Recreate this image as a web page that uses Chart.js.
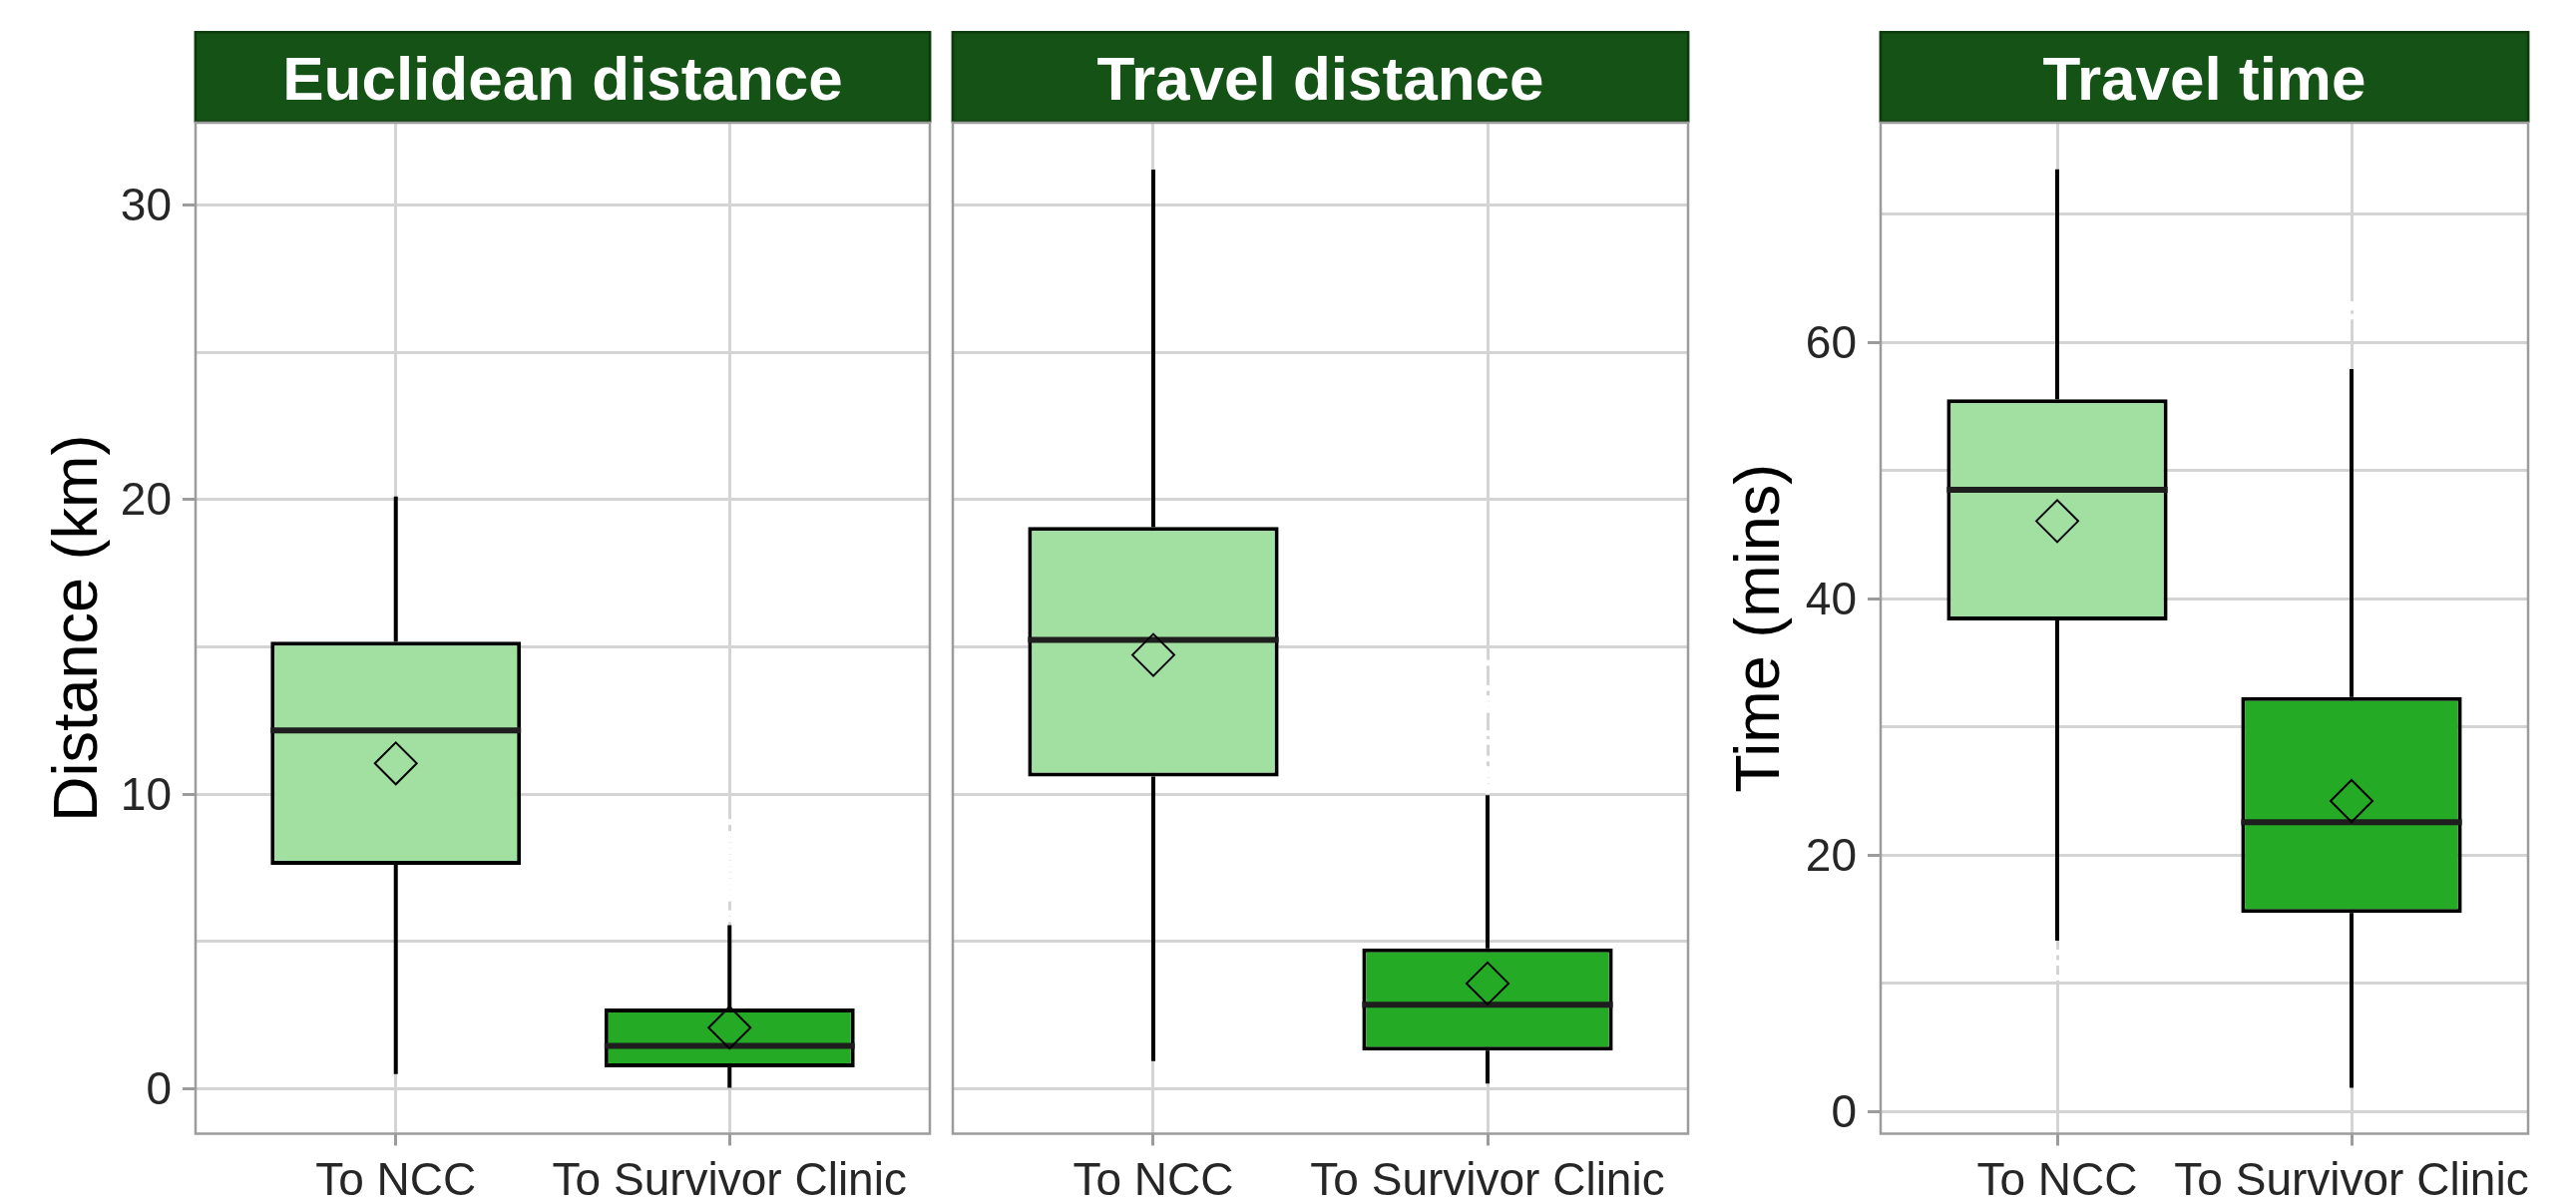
<!DOCTYPE html>
<html>
<head>
<meta charset="utf-8">
<title>Distance and travel time to NCC and survivor clinics</title>
<script src="https://cdn.jsdelivr.net/npm/chart.js@4.4.1/dist/chart.umd.min.js"></script>
<style>
  html, body { margin: 0; padding: 0; background: #ffffff; }
  body { width: 2582px; height: 1206px; position: relative; overflow: hidden; }
  canvas { position: absolute; top: 0; }
</style>
</head>
<body>
<canvas id="euclid" width="946" height="1206" style="left:0px"></canvas>
<canvas id="travel" width="754" height="1206" style="left:946px"></canvas>
<canvas id="time" width="882" height="1206" style="left:1700px"></canvas>
<script>
// ---- data -------------------------------------------------------------
const categories = ['To NCC', 'To Survivor Clinic'];

// Euclidean distance (km): [To NCC, To Survivor Clinic]
const euclidLow = [0.49, 0.03];
const euclidQ1 = [7.6, 0.72];
const euclidMedian = [12.16, 1.45];
const euclidQ3 = [15.17, 2.72];
const euclidHigh = [20.1, 5.55];
const euclidMean = [11.04, 2.07];
const euclidOutliers = [[], [5.75, 5.95, 6.45, 6.65, 6.85, 7.05, 7.25, 7.45, 7.65, 7.85, 8.05, 8.25, 8.45, 8.65, 9.05]];

// Travel distance (km)
const travelLow = [0.93, 0.17];
const travelQ1 = [10.59, 1.29];
const travelMedian = [15.23, 2.85];
const travelQ3 = [19.07, 4.76];
const travelHigh = [31.2, 9.96];
const travelMean = [14.72, 3.57];
const travelOutliers = [[], [10.1, 10.25, 10.45, 10.65, 10.85, 11.2, 11.77, 12.07, 12.85, 13.05, 13.25, 13.6, 14.45]];

// Travel time (mins)
const timeLow = [13.33, 1.85];
const timeQ1 = [38.3, 15.49];
const timeMedian = [48.5, 22.56];
const timeQ3 = [55.56, 32.34];
const timeHigh = [73.5, 57.92];
const timeMean = [46.06, 24.22];
const timeOutliers = [[10.45, 11.6, 12.4], [62.0, 62.7, 63.0]];

// Axis ticks
const distanceTicks = [0, 10, 20, 30];
const distanceMinorTicks = [5, 15, 25];
const timeTicks = [0, 20, 40, 60];
const timeMinorTicks = [10, 30, 50, 70];

// ---- styling ----------------------------------------------------------
const FONT = "'Liberation Sans', Arial, Helvetica, sans-serif";
Chart.defaults.font.family = FONT;
const BOX_FILLS = ['#a1e0a1', '#24aa24'];
const GRID = '#d4d4d4';
const FRAME = '#9c9c9c';
const TEXT = '#262626';
const BOX_WIDTH = 0.75;
const X_AXIS_HEIGHT = 69.5;

// dark green facet strip behind the title block
const stripPlugin = {
  id: 'facetStrip',
  beforeDraw(chart) {
    const { ctx, chartArea, titleBlock } = chart;
    if (!titleBlock) return;
    const x = chartArea.left - 1.25;
    const w = chartArea.right - chartArea.left + 2.5;
    const y = titleBlock.top;
    const h = titleBlock.bottom - titleBlock.top;
    ctx.save();
    ctx.fillStyle = '#155215';
    ctx.fillRect(x, y, w, h);
    ctx.strokeStyle = '#0c3b0c';
    ctx.lineWidth = 2.5;
    ctx.strokeRect(x + 1.25, y + 1.25, w - 2.5, h - 2.5);
    ctx.restore();
  }
};

// grey border round the panel
const framePlugin = {
  id: 'panelFrame',
  afterDatasetsDraw(chart) {
    const { ctx, chartArea } = chart;
    ctx.save();
    ctx.strokeStyle = FRAME;
    ctx.lineWidth = 2.5;
    ctx.strokeRect(chartArea.left, chartArea.top, chartArea.right - chartArea.left, chartArea.bottom - chartArea.top);
    ctx.restore();
  }
};

function buildPanel(p) {
  const datasets = [];
  categories.forEach((c, i) => {
    const x = i + 1;
    const whisker = { type: 'line', borderColor: '#000000', borderWidth: 4, pointRadius: 0, fill: false, order: 4 };
    datasets.push(Object.assign({ data: [{ x, y: p.q3[i] }, { x, y: p.high[i] }] }, whisker));
    datasets.push(Object.assign({ data: [{ x, y: p.low[i] }, { x, y: p.q1[i] }] }, whisker));
    datasets.push({
      type: 'line',
      data: [{ x: x - BOX_WIDTH / 2, y: p.median[i] }, { x: x + BOX_WIDTH / 2, y: p.median[i] }],
      borderColor: '#1e1e1e', borderWidth: 6, pointRadius: 0, fill: false, order: 2
    });
  });
  datasets.push({
    type: 'bar',
    data: categories.map((c, i) => ({ x: i + 1, y: [p.q1[i], p.q3[i]] })),
    backgroundColor: BOX_FILLS,
    borderColor: '#000000',
    borderWidth: 4,
    borderSkipped: false,
    barPercentage: BOX_WIDTH,
    categoryPercentage: 1,
    grouped: false,
    order: 3
  });
  datasets.push({
    type: 'scatter',
    data: categories.map((c, i) => ({ x: i + 1, y: p.mean[i] })),
    pointStyle: 'rectRot',
    pointRadius: 21,
    pointBorderWidth: 2,
    pointBorderColor: '#000000',
    pointBackgroundColor: 'rgba(0,0,0,0)',
    order: 1
  });
  datasets.push({
    type: 'scatter',
    data: p.outliers.flatMap((list, i) => list.map(v => ({ x: i + 1, y: v }))),
    pointRadius: 3,
    pointBorderWidth: 0,
    pointBackgroundColor: '#ffffff',
    order: 5
  });

  const allTicks = p.major.concat(p.minor).sort((a, b) => a - b);

  return new Chart(document.getElementById(p.canvas), {
    type: 'scatter',
    data: { datasets },
    plugins: [stripPlugin, framePlugin],
    options: {
      responsive: false,
      animation: false,
      events: [],
      layout: { autoPadding: false, padding: { left: 0, right: p.padRight, top: 31, bottom: 0 } },
      plugins: {
        legend: { display: false },
        tooltip: { enabled: false },
        title: {
          display: true,
          text: p.title,
          color: '#ffffff',
          fullSize: false,
          font: { size: 62, weight: 'bold', lineHeight: 1.2 },
          padding: { top: 14.3, bottom: 3.3 }
        }
      },
      scales: {
        x: {
          type: 'linear',
          min: 0.4,
          max: 2.6,
          bounds: 'data',
          offset: false,
          afterBuildTicks: s => { s.ticks = categories.map((c, i) => ({ value: i + 1 })); },
          afterFit: s => {
            s.height = X_AXIS_HEIGHT;
            s.paddingLeft = 0;
            s.paddingRight = 0;
          },
          ticks: {
            autoSkip: false,
            maxRotation: 0,
            padding: 9,
            color: TEXT,
            font: { size: 46 },
            callback: (v, i) => categories[i]
          },
          grid: {
            color: GRID, lineWidth: 3, offset: false,
            drawTicks: true, tickLength: 12, tickColor: FRAME, tickWidth: 3
          },
          border: { display: false }
        },
        y: {
          type: 'linear',
          min: p.yMin,
          max: p.yMax,
          bounds: 'data',
          afterBuildTicks: s => { s.ticks = allTicks.map(v => ({ value: v })); },
          afterFit: s => {
            s.width = p.yWidth;
            s.paddingTop = 0;
            s.paddingBottom = 0;
          },
          ticks: {
            display: p.showLabels,
            autoSkip: false,
            padding: 11,
            labelOffset: 3,
            color: TEXT,
            font: { size: 46 },
            callback: v => (p.major.includes(v) ? String(v) : '')
          },
          grid: {
            color: GRID, lineWidth: 3,
            drawTicks: p.showLabels, tickLength: 13, tickWidth: 3,
            tickColor: ctx => (ctx.tick && p.major.includes(ctx.tick.value) ? FRAME : 'rgba(0,0,0,0)')
          },
          border: { display: false },
          title: {
            display: !!p.yTitle,
            text: p.yTitle || '',
            color: '#000000',
            font: { size: 63, lineHeight: 1.2 },
            padding: { top: p.yTitlePad, bottom: 0 }
          }
        }
      }
    }
  });
}

buildPanel({
  canvas: 'euclid', title: 'Euclidean distance', yTitle: 'Distance (km)', yTitlePad: 41.4,
  low: euclidLow, q1: euclidQ1, median: euclidMedian, q3: euclidQ3, high: euclidHigh,
  mean: euclidMean, outliers: euclidOutliers,
  major: distanceTicks, minor: distanceMinorTicks, yMin: -1.53, yMax: 32.79,
  yWidth: 196, padRight: 14, showLabels: true
});
buildPanel({
  canvas: 'travel', title: 'Travel distance', yTitle: '', yTitlePad: 0,
  low: travelLow, q1: travelQ1, median: travelMedian, q3: travelQ3, high: travelHigh,
  mean: travelMean, outliers: travelOutliers,
  major: distanceTicks, minor: distanceMinorTicks, yMin: -1.53, yMax: 32.79,
  yWidth: 9, padRight: 8, showLabels: false
});
buildPanel({
  canvas: 'time', title: 'Travel time', yTitle: 'Time (mins)', yTitlePad: 27.4,
  low: timeLow, q1: timeQ1, median: timeMedian, q3: timeQ3, high: timeHigh,
  mean: timeMean, outliers: timeOutliers,
  major: timeTicks, minor: timeMinorTicks, yMin: -1.735, yMax: 77.14,
  yWidth: 185, padRight: 48, showLabels: true
});
</script>
</body>
</html>
